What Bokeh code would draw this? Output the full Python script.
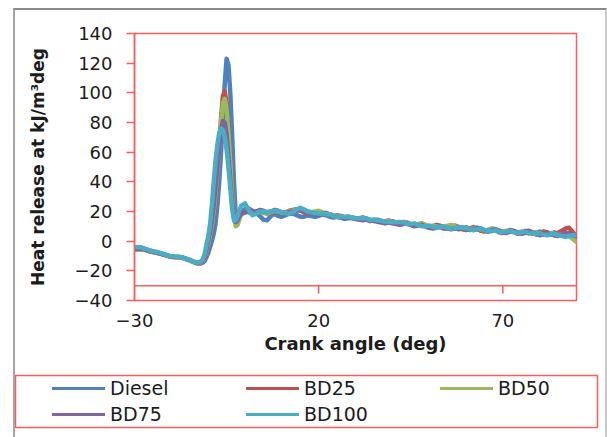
import numpy as np
from bokeh.plotting import figure
from bokeh.layouts import column
from bokeh.models import Range1d, FixedTicker, Span, Legend, LegendItem
from bokeh.embed import file_html
from bokeh.resources import INLINE

# ---------------- data ----------------
crank_angle = np.concatenate([
    np.arange(-30, -11, 1.0),      # -30 .. -12
    np.arange(-11.5, -1.0, 0.5),   # -11.5 .. -1.5
    np.arange(-1, 91, 1.0),        # -1 .. 90
])

diesel = [
    -4.8, -4.7, -4.9, -5.6, -6.4, -7.0, -7.5, -8.1, -8.9, -9.7, -10.4, -10.6, -10.7, -11.1, -11.9, -12.8, -13.9, -14.9, -15.0,
    -14.5, -13.5, -11, -8, -4, 0, 5, 12, 24, 40, 60, 83, 106, 123, 119, 100, 72, 40, 17, 13, 16,
    20, 21.5, 22, 20.5, 19, 17, 14.5, 14, 17, 18.5,
    17, 16.5, 17.5, 18.5, 18.5, 17.5, 16.5, 16.5, 17.5, 17,
    16.5, 17, 18, 17.5, 16.5, 16, 16.5, 16, 15, 15.5,
    16, 15, 14.5, 15, 14.5, 13.5, 14, 14.5, 13.5, 12.5,
    13, 13.5, 12.5, 11.5, 12, 12.5, 11.5, 10.5, 11, 11.5,
    10.5, 9.5, 10, 10.5, 9.5, 8.5, 9, 10, 9, 8,
    8.5, 9.5, 8.5, 7.5, 8, 8.5, 7.5, 6.5, 7, 8,
    7, 6, 6.5, 7.5, 6.5, 5.5, 6, 7, 6, 5,
    5.5, 6.5, 5.5, 4.5, 5, 6, 5, 4, 4.5, 5.5,
    4.5, 3.5,
]
bd25 = [
    -5.6, -5.4, -5.3, -5.9, -6.7, -7.3, -7.8, -8.4, -9.1, -9.9, -10.5, -10.7, -10.8, -11.2, -12.0, -12.9, -14.0, -14.9, -14.8,
    -14, -12, -8, -3, 3, 9, 18, 30, 46, 64, 83, 98, 101, 93, 76, 55, 33, 18, 13, 15, 18,
    19, 20, 19.5, 18.5, 19, 20, 19.5, 18.5, 19, 20,
    19.5, 19, 19.5, 20.5, 21, 21.5, 20.5, 19.5, 19, 19.5,
    19, 18, 18.5, 19, 18, 17, 17.5, 17, 16, 16.5,
    16, 15, 15.5, 16, 15, 14, 14.5, 14, 13, 13.5,
    14, 13, 12, 12.5, 13, 12, 11, 10.5, 11.5, 12,
    10.5, 9.5, 10, 11, 10.5, 9, 8.5, 9.5, 10.5, 9.5,
    8, 7.5, 8.5, 9.5, 8.5, 7, 6.5, 7.5, 8.5, 7.5,
    6, 5.5, 6.5, 7.5, 6.5, 5, 5.5, 6.5, 7, 5.5,
    4.5, 5, 6.5, 6, 4.5, 4, 5.5, 7, 8.5, 9,
    6, 3,
]
bd50 = [
    -5.8, -5.6, -5.4, -6.0, -6.8, -7.4, -7.9, -8.5, -9.2, -10.0, -10.6, -10.8, -10.9, -11.3, -12.1, -13.0, -14.1, -14.9, -14.5,
    -13.8, -11.5, -7, -2, 4, 11, 20, 32, 47, 63, 80, 93, 96, 89, 73, 53, 32, 16, 10, 11, 15,
    18, 19.5, 20, 19, 19.5, 20, 19, 18.5, 19.5, 20.5,
    20, 19, 19.5, 20, 20.5, 21, 21.5, 21, 20, 19.5,
    20, 20.5, 19.5, 18.5, 18, 17.5, 17, 16.5, 16, 16.5,
    16, 15.5, 15, 15.5, 15, 14, 14.5, 14, 13.5, 13,
    13.5, 13, 12.5, 12, 12.5, 12, 11.5, 11, 11.5, 12,
    11, 10, 10.5, 10, 9.5, 10, 10.5, 11, 10, 9,
    9.5, 9, 8, 8.5, 9, 8, 7, 7.5, 8.5, 8,
    7, 6.5, 7, 6.5, 6, 5.5, 6.5, 6, 5, 5.5,
    6, 5, 4.5, 5, 5.5, 5, 4, 4.5, 5, 3.5,
    1.5, -0.5,
]
bd75 = [
    -5.4, -5.2, -5.1, -5.8, -6.6, -7.2, -7.7, -8.3, -9.0, -9.8, -10.4, -10.6, -10.7, -11.1, -11.9, -12.8, -13.9, -14.7, -14.2,
    -13.5, -11, -6, 0, 6, 14, 24, 36, 50, 63, 74, 81, 80, 72, 58, 42, 27, 16, 13, 14, 17,
    18.5, 19.5, 20, 19.5, 20, 21, 20.5, 19.5, 20, 21,
    20.5, 19.5, 19, 19.5, 20, 20.5, 21, 20.5, 19.5, 19,
    18.5, 18, 18.5, 19, 18, 17, 16.5, 16, 15.5, 16,
    15.5, 15, 14.5, 14, 14.5, 14, 13.5, 13, 12.5, 12,
    12.5, 12, 11.5, 11, 11.5, 12, 11, 10, 10.5, 11,
    10, 9, 8.5, 9, 10, 9.5, 8.5, 8, 8.5, 9.5,
    9, 8, 7.5, 8, 9, 8.5, 7, 6.5, 7.5, 8,
    7, 6, 5.5, 6.5, 7, 6, 5, 5.5, 6.5, 6,
    5, 4, 4.5, 5.5, 5, 4, 3.5, 4.5, 5.5, 5,
    4, 3.5,
]
bd100 = [
    -4.2, -4.0, -4.3, -5.2, -6.1, -6.7, -7.2, -7.9, -8.7, -9.5, -10.2, -10.4, -10.5, -10.9, -11.7, -12.6, -13.7, -14.5, -13.8,
    -12.5, -9, -3, 3, 11, 24, 40, 54, 65, 73, 76, 75, 70, 62, 50, 36, 22, 14, 14, 17, 21,
    24, 25.5, 21, 17.5, 18.5, 20, 20, 19.5, 20, 20.5,
    20.5, 19.5, 19, 18.5, 19.5, 21.5, 22.5, 21.5, 20, 19.5,
    19, 18.7, 18.5, 18.5, 18, 17, 16.5, 16.5, 16.5, 16.5,
    16, 15.5, 15.4, 15.5, 15.4, 14.5, 14.3, 14.3, 13.8, 13.2,
    13, 13, 12.8, 13, 12.5, 11.5, 11.5, 12, 11, 10,
    10, 10.5, 9.7, 9, 9.5, 10, 9, 8.5, 8.8, 9.5,
    9, 8.6, 8, 7.5, 8, 8.5, 7.5, 7, 6.8, 7.5,
    6.4, 6, 6.5, 7, 6, 5.5, 6, 6.5, 5.5, 5.3,
    5, 5.5, 4.5, 4, 4.5, 5, 4, 3.5, 3, 3.5,
    4, 4,
]

series_names = ["Diesel", "BD25", "BD50", "BD75", "BD100"]
series_values = [diesel, bd25, bd50, bd75, bd100]
series_colors = ["#4F81BD", "#C0504D", "#9BBB59", "#8064A2", "#4BACC6"]

x_ticks = [-30, 20, 70]
y_ticks = [-40, -20, 0, 20, 40, 60, 80, 100, 120, 140]
x_axis_cross = -30

RED = "#FF5B5B"
TXT = "#1c1c1c"
FONT = "DejaVu Sans"

# ---------------- main chart ----------------
p = figure(width=590, height=355, output_backend="svg", toolbar_location=None,
           x_range=Range1d(-30, 90), y_range=Range1d(-40, 140),
           min_border_left=119, min_border_right=29, min_border_top=23, min_border_bottom=65)
p.frame_align = False
p.xgrid.grid_line_color = None
p.ygrid.grid_line_color = None
p.outline_line_color = RED
p.outline_line_width = 1.5
p.outline_line_alpha = 1.0
p.background_fill_color = "white"
p.border_fill_color = "white"

ya = p.yaxis[0]
ya.ticker = FixedTicker(ticks=y_ticks)
ya.axis_line_color = RED
ya.axis_line_width = 1.5
ya.major_tick_line_color = RED
ya.major_tick_line_width = 1.5
ya.major_tick_out = 8
ya.major_tick_in = 0
ya.minor_tick_line_color = None
ya.major_label_standoff = 14
ya.major_label_text_font = FONT
ya.major_label_text_font_size = "18px"
ya.major_label_text_color = TXT
ya.axis_label = "Heat release at kJ/m³deg"
ya.axis_label_text_font = FONT
ya.axis_label_text_font_style = "bold"
ya.axis_label_text_font_size = "17px"
ya.axis_label_text_color = TXT
ya.axis_label_standoff = 24

xa = p.xaxis[0]
xa.ticker = FixedTicker(ticks=x_ticks)
xa.axis_line_color = None
xa.major_tick_line_color = None
xa.major_tick_out = 0
xa.major_tick_in = 0
xa.minor_tick_line_color = None
xa.major_label_standoff = 13
xa.major_label_text_font = FONT
xa.major_label_text_font_size = "18px"
xa.major_label_text_color = TXT
xa.axis_label = "Crank angle (deg)"
xa.axis_label_text_font = FONT
xa.axis_label_text_font_style = "bold"
xa.axis_label_text_font_size = "18px"
xa.axis_label_text_color = TXT
xa.axis_label_standoff = 3

# horizontal axis line crossing at y = -30, with its ticks
p.add_layout(Span(location=x_axis_cross, dimension="width", line_color=RED, line_width=1.5))
p.segment(x0=x_ticks[1:], y0=[x_axis_cross] * 2, x1=x_ticks[1:], y1=[x_axis_cross - 5.2] * 2,
          line_color=RED, line_width=1.5)

for name, vals, col in zip(series_names, series_values, series_colors):
    p.line(crank_angle, vals, line_color=col, line_width=4.5, line_join="round", line_cap="round")

# ---------------- legend panel ----------------
lg = figure(width=590, height=72, output_backend="svg", toolbar_location=None,
            x_range=Range1d(1000, 1001), y_range=Range1d(1000, 1001),
            x_axis_type=None, y_axis_type=None,
            min_border_left=0, min_border_right=8, min_border_top=10, min_border_bottom=10)
lg.frame_align = False
lg.xgrid.grid_line_color = None
lg.ygrid.grid_line_color = None
lg.outline_line_color = RED
lg.outline_line_width = 1.5
lg.outline_line_alpha = 1.0
lg.border_fill_color = "white"

items = []
for name, vals, col in zip(series_names, series_values, series_colors):
    # same series, drawn outside this panel's view, only used for the legend swatches
    r = lg.line(crank_angle, vals, line_color=col, line_width=3, line_cap="round")
    items.append(LegendItem(label=name, renderers=[r]))

legend = Legend(items=items, location=(37, 2), orientation="horizontal", ncols=3,
                glyph_width=53, glyph_height=20, label_standoff=5, label_width=132,
                label_height=22, spacing=4, padding=0, margin=0,
                border_line_color=None, background_fill_alpha=0,
                label_text_font=FONT, label_text_font_size="19px", label_text_color=TXT)
lg.add_layout(legend)

layout = column(p, lg, spacing=0, margin=(8, 0, 0, 13),
                styles={"border-top": "2px solid #8a8a8a",
                        "border-left": "2px solid #a6a6a6",
                        "border-right": "2px solid #c8c8c8"})

open("out.html", "w").write(file_html(layout, INLINE))
